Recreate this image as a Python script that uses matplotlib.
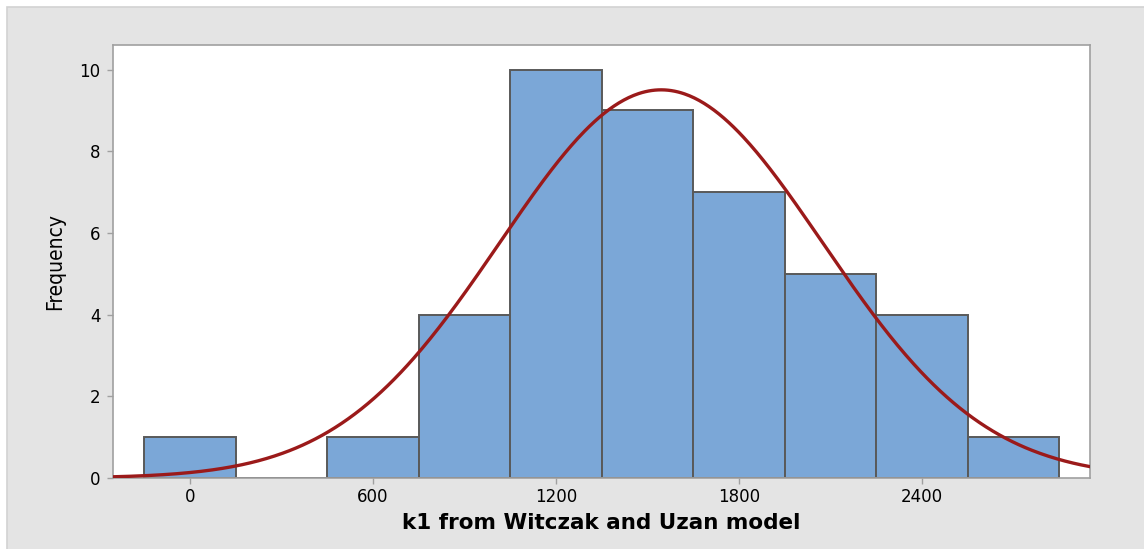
import numpy as np
import matplotlib
matplotlib.use("Agg")
import matplotlib.pyplot as plt
from matplotlib.patches import Rectangle

# Data
bin_centers = [0, 300, 600, 900, 1200, 1500, 1800, 2100, 2400, 2700]
counts = [1, 0, 1, 4, 10, 9, 7, 5, 4, 1]
bin_width = 300
fit_mean = 1545
fit_sd = 529
n_obs = 42
x_ticks = [0, 600, 1200, 1800, 2400]
y_ticks = [0, 2, 4, 6, 8, 10]
x_label = "k1 from Witczak and Uzan model"
y_label = "Frequency"

W, H = 1144, 549
fig = plt.figure(figsize=(W / 100, H / 100), dpi=100)
fig.patch.set_facecolor("white")
# gray panel (extends past right and bottom edges)
fig.patches.append(Rectangle((7 / W, -0.05), 1.1, 1.05 - 7 / H, transform=fig.transFigure,
                             facecolor="#e4e4e4", edgecolor="#d2d2d2", linewidth=1.2,
                             zorder=-10))

L, R, T, B = 113, 1090, 45, 478
ax = fig.add_axes([L / W, 1 - B / H, (R - L) / W, (B - T) / H])
ax.set_facecolor("white")

ax.bar(bin_centers, counts, width=bin_width, color="#7ba7d7", edgecolor="#595959",
       linewidth=1.4, zorder=2)

xs = np.linspace(-260, 2960, 600)
ys = n_obs * bin_width / (fit_sd * np.sqrt(2 * np.pi)) * np.exp(-0.5 * ((xs - fit_mean) / fit_sd) ** 2)
ax.plot(xs, ys, color="#9b1a1a", linewidth=2.4, zorder=3)

ax.set_xlim(-252, 2951)
ax.set_ylim(0, 10.6)
ax.set_xticks(x_ticks)
ax.set_yticks(y_ticks)
for s in ax.spines.values():
    s.set_color("#a0a0a0")
    s.set_linewidth(1.2)
ax.tick_params(axis="both", colors="#a0a0a0", length=4, width=1, labelcolor="black",
               labelsize=12)
for lab in ax.get_xticklabels() + ax.get_yticklabels():
    lab.set_fontfamily(["DejaVu Sans"])
ax.tick_params(axis="x", pad=3)
ax.tick_params(axis="y", pad=5)

ax.set_xlabel(x_label, fontsize=15.5, fontweight="bold",
              family=["DejaVu Sans"], labelpad=5)
ax.set_ylabel(y_label, fontsize=15, family=["DejaVu Sans"], fontstretch="condensed",
              labelpad=10)

fig.savefig("out.png", dpi=100)
